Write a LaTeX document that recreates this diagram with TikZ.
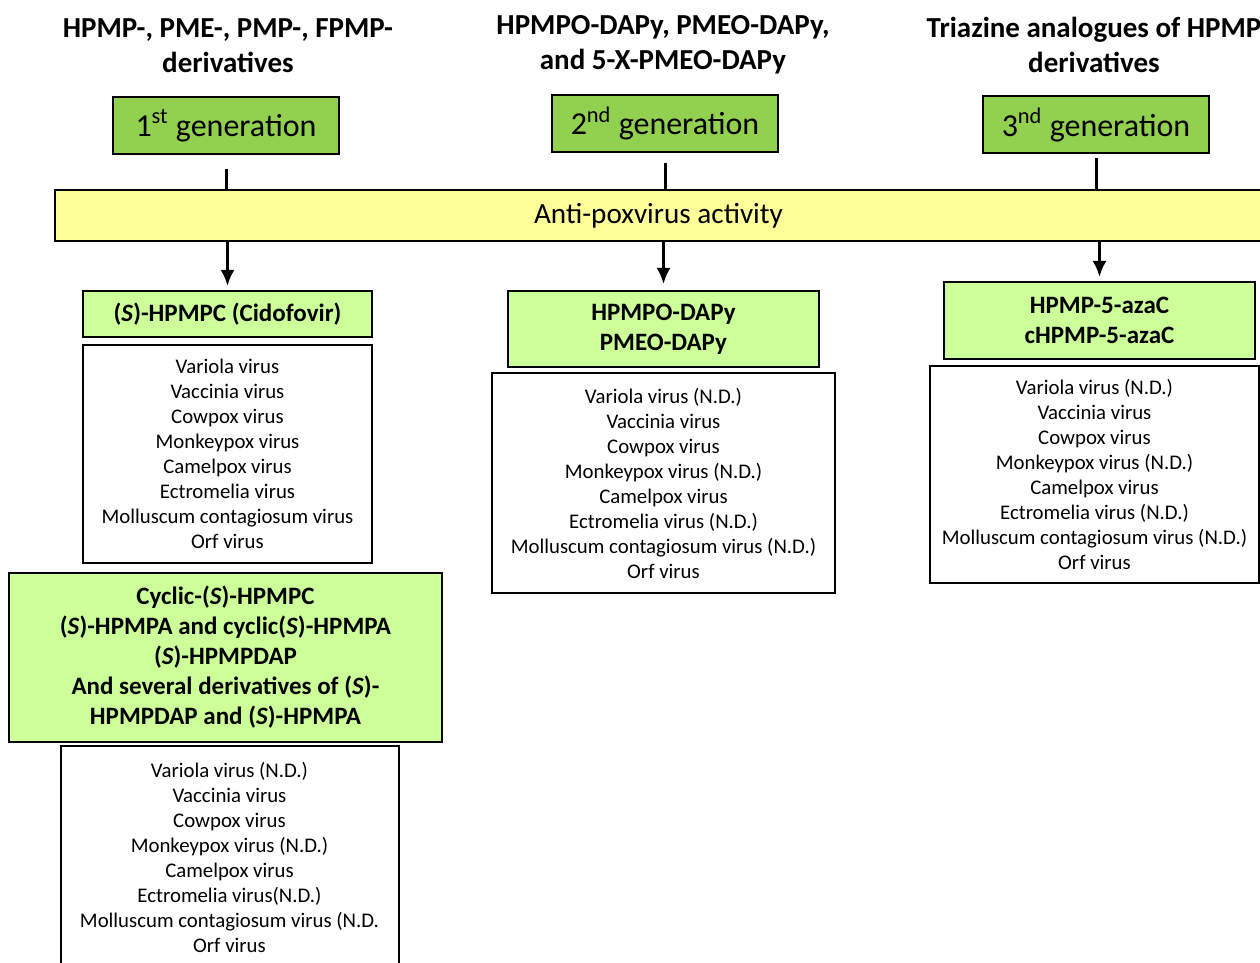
\documentclass[tikz,border=0pt]{standalone}
\usepackage{fontspec}
\setmainfont{Carlito}
\usetikzlibrary{positioning,arrows.meta}

\definecolor{verdegen}{HTML}{92D050}
\definecolor{verdeclaro}{HTML}{CCFF99}
\definecolor{amarillo}{HTML}{FFFF99}

\begin{document}
\begin{tikzpicture}[
    x=0.5pt, y=-0.5pt,
    node distance=3pt,
    titulo/.style={
        align=center,
        font=\fontsize{14.5}{17.5}\selectfont\bfseries
    },
    generacion/.style={
        draw,
        line width=1pt,
        fill=verdegen,
        minimum width=113pt,
        minimum height=28.5pt,
        inner sep=0pt,
        font=\fontsize{16}{19}\selectfont
    },
    barra/.style={
        draw,
        line width=1pt,
        fill=amarillo,
        minimum width=603.5pt,
        minimum height=25.5pt,
        inner sep=0pt,
        font=\fontsize{14.6}{17}\selectfont
    },
    compuesto/.style={
        draw,
        line width=1pt,
        fill=verdeclaro,
        align=center,
        inner sep=0pt,
        font=\fontsize{12.5}{15}\selectfont\bfseries
    },
    lista/.style={
        draw,
        line width=1pt,
        fill=white,
        align=center,
        inner sep=0pt,
        font=\fontsize{10.4}{12.5}\selectfont
    },
    linea/.style={line width=1.5pt},
    >={Latex[length=8pt,width=7pt]}
]

\useasboundingbox (0,0) rectangle (1260,963);

% titulos
\node[titulo] (familia1) at (228,46)
{HPMP-, PME-, PMP-, FPMP-\\derivatives};

\node[titulo] (familia2) at (663,45)
{HPMPO-DAPy, PMEO-DAPy,\\and 5-X-PMEO-DAPy};

\node[titulo] (familia3) at (1094,45)
{Triazine analogues of HPMP\\derivatives};

% generaciones
\node[generacion] (gen1) at (226,125.5)
{1\textsuperscript{st} generation};

\node[generacion] (gen2) at (665,123.5)
{2\textsuperscript{nd} generation};

\node[generacion] (gen3) at (1096,125)
{3\textsuperscript{nd} generation};

\node[barra] (actividad) at (658.5,215.5)
{Anti-poxvirus activity};

% compuestos
\node[compuesto, minimum width=144.5pt, minimum height=23pt] (hpmpc) at (227.5,314)
{(\textit{S})-HPMPC (Cidofovir)};

\node[lista, below=3pt of hpmpc, minimum width=144.5pt, minimum height=109pt] (virus1)
{Variola virus\\Vaccinia virus\\Cowpox virus\\Monkeypox virus\\Camelpox virus\\Ectromelia virus\\Molluscum contagiosum virus\\Orf virus};

\node[compuesto, below=4pt of virus1, xshift=-1pt, minimum width=216.5pt, minimum height=84.5pt] (ciclico)
{Cyclic-(\textit{S})-HPMPC\\(\textit{S})-HPMPA and cyclic(\textit{S})-HPMPA\\(\textit{S})-HPMPDAP\\And several derivatives of (\textit{S})-\\HPMPDAP and (\textit{S})-HPMPA};

\node[lista, below=1pt of ciclico, xshift=2pt, minimum width=169pt, minimum height=111pt] (virus2)
{Variola virus (N.D.)\\Vaccinia virus\\Cowpox virus\\Monkeypox virus (N.D.)\\Camelpox virus\\Ectromelia virus(N.D.)\\Molluscum contagiosum virus (N.D.\\Orf virus};

\node[compuesto, minimum width=155.5pt, minimum height=38pt] (dapy) at (663.5,329)
{HPMPO-DAPy\\PMEO-DAPy};

\node[lista, below=2pt of dapy, minimum width=171.5pt, minimum height=110pt] (virus3)
{Variola virus (N.D.)\\Vaccinia virus\\Cowpox virus\\Monkeypox virus (N.D.)\\Camelpox virus\\Ectromelia virus (N.D.)\\Molluscum contagiosum virus (N.D.)\\Orf virus};

\node[compuesto, minimum width=155.5pt, minimum height=38.5pt] (azac) at (1099.5,320.5)
{HPMP-5-azaC\\cHPMP-5-azaC};

\node[lista, below=2.5pt of azac, xshift=-2.5pt, minimum width=164.5pt, minimum height=108.5pt] (virus4)
{Variola virus (N.D.)\\Vaccinia virus\\Cowpox virus\\Monkeypox virus (N.D.)\\Camelpox virus\\Ectromelia virus (N.D.)\\Molluscum contagiosum virus (N.D.)\\Orf virus};

% conectores
\draw[linea, shorten <=7pt] (gen1.south) -- (gen1.south |- actividad.north);
\draw[linea, shorten <=5pt] (gen2.south) -- (gen2.south |- actividad.north);
\draw[linea, shorten <=2pt] (gen3.south) -- (gen3.south |- actividad.north);

\draw[->, linea, shorten >=2pt] (actividad.south -| hpmpc.north) -- (hpmpc.north);
\draw[->, linea, shorten >=3pt] (actividad.south -| dapy.north) -- (dapy.north);
\draw[->, linea, shorten >=2pt] (actividad.south -| azac.north) -- (azac.north);

\end{tikzpicture}
\end{document}
